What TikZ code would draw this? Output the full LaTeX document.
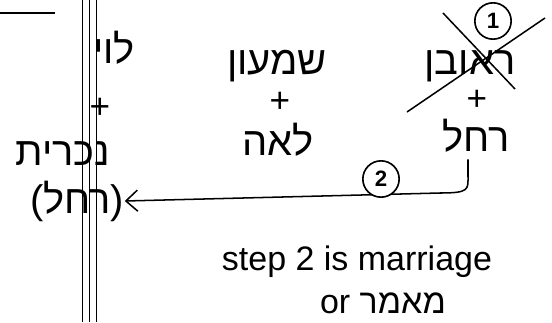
\documentclass[tikz,border=0pt]{standalone}
\usepackage{fontspec}
\setmainfont{Liberation Sans}
\newfontfamily\hebfont[Script=Hebrew]{Liberation Sans}
\TeXXeTstate=1
\usepackage{tikz}
\usetikzlibrary{arrows.meta, positioning, calc}

\tikzset{
  heb/.style={font=\hebfont\fontsize{34}{36}\selectfont, inner sep=0pt},
  plus/.style={font=\fontsize{30}{32}\selectfont, inner sep=0pt},
  stepnum/.style={draw, circle, line width=1.4pt, minimum size=31pt, inner sep=0pt, font=\bfseries\fontsize{19}{20}\selectfont},
  note/.style={font=\fontsize{29}{31}\selectfont, inner sep=1pt},
  arr/.style={-{Straight Barb[length=10pt, width=18pt, line width=1.3pt]}, line width=1.3pt},
}

\begin{document}
\begin{tikzpicture}[x=0.03cm, y=-0.03cm, line width=1.3pt]
\useasboundingbox (0,0) rectangle (552,322);

% separating lines
\foreach \x in {82,89,96} {
    \draw[line width=0.6pt] (\x,0) -- (\x,322);
}
\draw (0,13) -- (55,13);

% left column
\node[heb] (levi) at (114,48) {\beginR לוי\endR};
\node[plus] (plusL) at (100,108) {+};
\node[heb] (nokhrit) at (63,154) {\beginR נכרית\endR};
\node[heb] (rachelL) at (77,201) {\beginR (רחל)\endR};

% middle column
\node[heb] (shimon) at (277,66) {\beginR שמעון\endR};
\node[plus] (plusM) at (280,102) {+};
\node[heb] (leah) at (278,140) {\beginR לאה\endR};

% right column
\node[heb] (reuven) at (470,66) {\beginR ראובן\endR};
\node[stepnum] (step1) at (493,21) {1};
\draw ($(reuven)+(-27,-53)$) -- ($(reuven)+(45,23)$);
\draw ($(reuven)+(-63,46)$) -- ($(reuven)+(75,-48)$);
\node[plus] (plusR) at (477,100) {+};
\node[heb] (rachelR) at (476,136) {\beginR רחל\endR};

% step 2
\coordinate (bend) at (440,193);
\draw[arr] ($(rachelR.south)+(-8,6)$) -- ++(0,16) .. controls +(0,14) and +(30,0) .. (bend) -- (rachelL.east);
\node[stepnum, fill=white] (step2) at (381,179) {2};

% note
\node[note] (note1) at (357,262) {step 2 is marriage};
\node[note] (note2) at (383,303) {or {\hebfont\beginR מאמר\endR}};
\end{tikzpicture}
\end{document}
